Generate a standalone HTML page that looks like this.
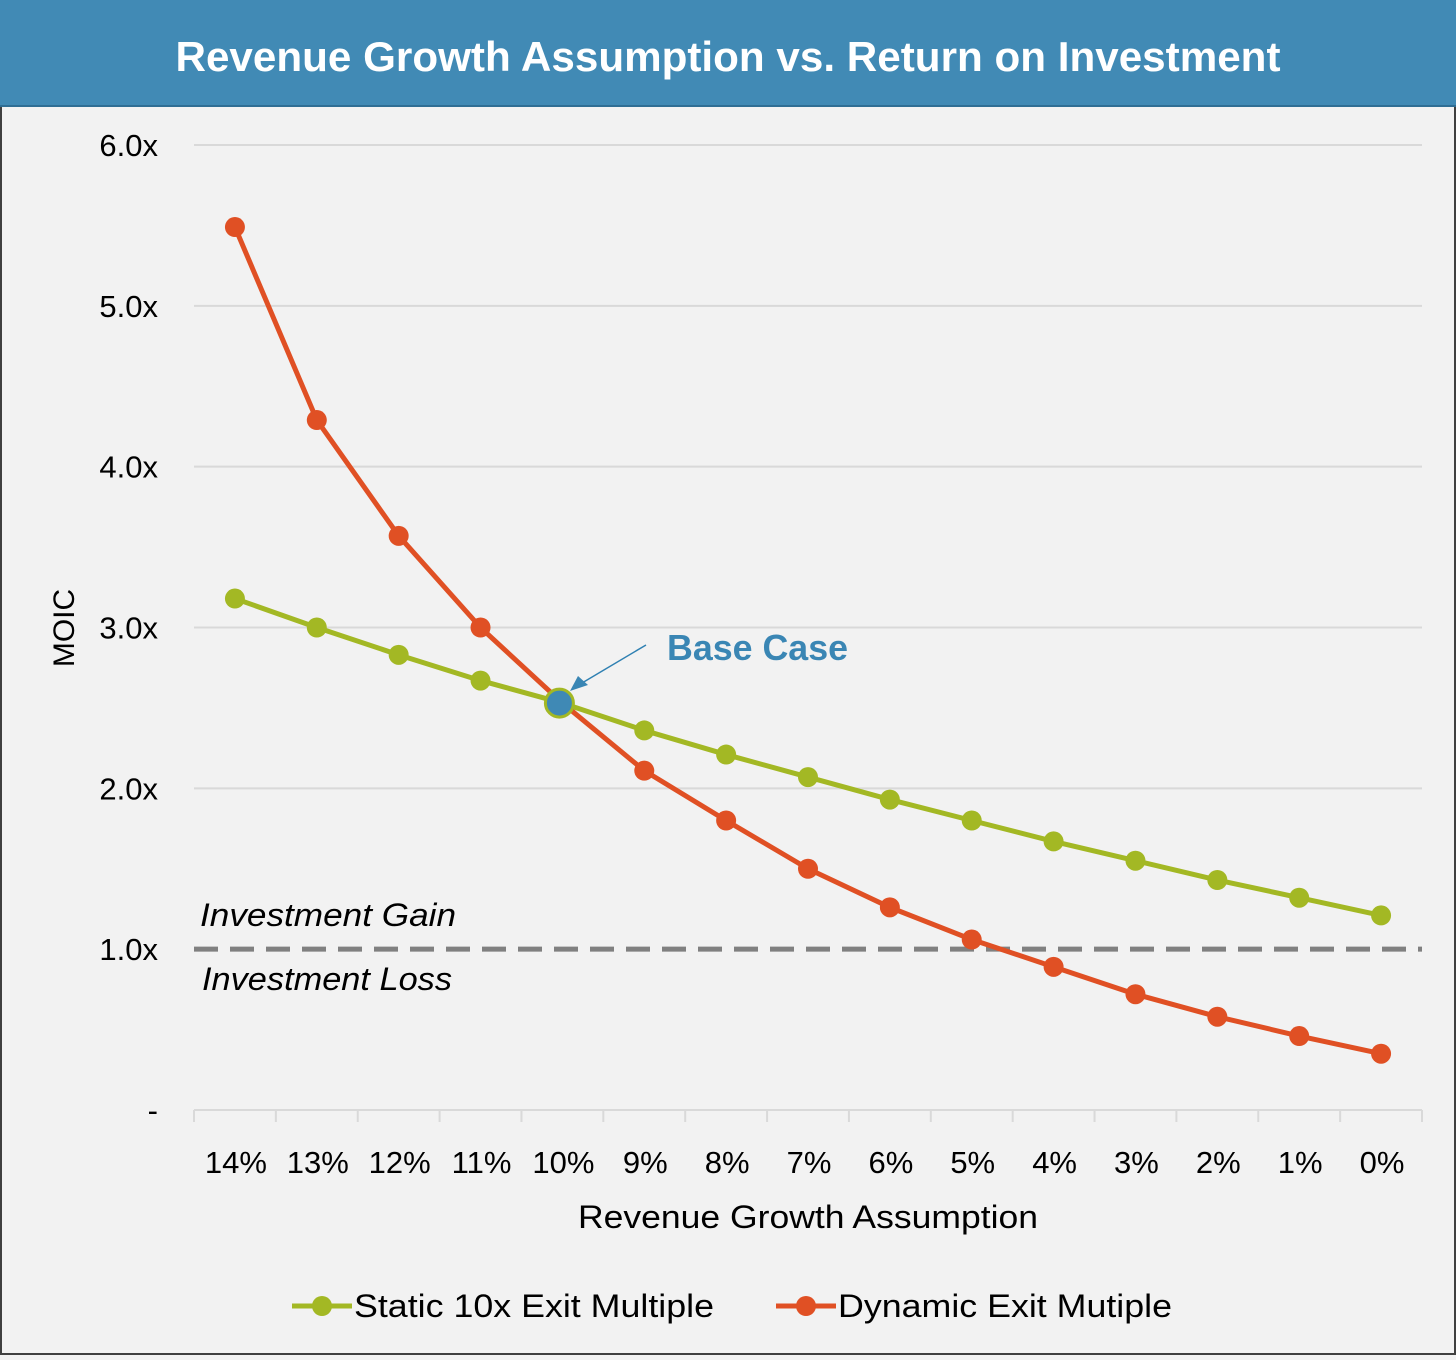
<!DOCTYPE html>
<html><head><meta charset="utf-8"><style>
body{margin:0;width:1456px;height:1355px;background:#f2f2f2;overflow:hidden;font-family:"Liberation Sans",sans-serif}
</style></head><body>
<svg width="1456" height="1355" viewBox="0 0 1456 1355">
<rect x="1" y="1" width="1454" height="1353" fill="#f2f2f2" stroke="#404040" stroke-width="2"/>
<rect x="0" y="0" width="1456" height="107" fill="#418ab5"/>
<line x1="0" y1="106" x2="1456" y2="106" fill="none" stroke="#2f6e94" stroke-width="2"/>
<text x="728" y="71" text-anchor="middle" font-size="42" font-weight="bold" fill="#fff" textLength="1105" lengthAdjust="spacingAndGlyphs">Revenue Growth Assumption vs. Return on Investment</text>
<g id="grid"></g><g id="axes"></g><g id="series"></g>
<text x="74" y="628" transform="rotate(-90 74 628)" text-anchor="middle" font-size="30" fill="#000">MOIC</text>
<text x="808" y="1228" text-anchor="middle" font-size="32" fill="#000" textLength="460" lengthAdjust="spacingAndGlyphs">Revenue Growth Assumption</text>
<text x="200" y="926" font-size="32" font-style="italic" fill="#000" textLength="256" lengthAdjust="spacingAndGlyphs">Investment Gain</text>
<text x="202" y="990" font-size="32" font-style="italic" fill="#000" textLength="250" lengthAdjust="spacingAndGlyphs">Investment Loss</text>
<text x="667" y="660" font-size="36" font-weight="bold" fill="#3a86b4" textLength="181" lengthAdjust="spacingAndGlyphs">Base Case</text>
<line x1="646" y1="645" x2="582" y2="683" stroke="#2f80b2" stroke-width="1.5"/>
<polygon points="570,691 578,676 588,685" fill="#3a86b4"/>
<g>
<line x1="292" y1="1306" x2="352" y2="1306" stroke="#a3b824" stroke-width="5"/><circle cx="322" cy="1306" r="10" fill="#a3b824"/>
<text x="354" y="1317" font-size="32" fill="#000" textLength="360" lengthAdjust="spacingAndGlyphs">Static 10x Exit Multiple</text>
<line x1="776" y1="1306" x2="836" y2="1306" stroke="#e05024" stroke-width="5"/><circle cx="806" cy="1306" r="10" fill="#e05024"/>
<text x="838" y="1317" font-size="32" fill="#000" textLength="334" lengthAdjust="spacingAndGlyphs">Dynamic Exit Mutiple</text>
</g>
</svg>
<script>
const categories=["14%","13%","12%","11%","10%","9%","8%","7%","6%","5%","4%","3%","2%","1%","0%"];
const staticValues=[3.18,3.00,2.83,2.67,2.53,2.36,2.21,2.07,1.93,1.80,1.67,1.55,1.43,1.32,1.21];
const dynamicValues=[5.49,4.29,3.57,3.00,2.53,2.11,1.80,1.50,1.26,1.06,0.89,0.72,0.58,0.46,0.35];
const yTicks=[0,1,2,3,4,5,6];
const yTickLabels=["-","1.0x","2.0x","3.0x","4.0x","5.0x","6.0x"];
const baseIndex=4;
const NS="http://www.w3.org/2000/svg";
const X0=194,X1=1422,Y0=1110,Y6=145;
const step=(X1-X0)/categories.length;
const xs=i=>X0+step*(i+0.5);
const ys=v=>Y0-(Y0-Y6)*v/6;
function mk(p,t,a){const e=document.createElementNS(NS,t);for(const k in a)e.setAttribute(k,a[k]);p.appendChild(e);return e;}
const grid=document.getElementById('grid'),axes=document.getElementById('axes'),ser=document.getElementById('series');
yTicks.forEach((v,i)=>{
 if(v>0&&v!==1){const l=mk(grid,'line',{x1:X0,x2:X1,y1:ys(v),y2:ys(v),stroke:'#d9d9d9','stroke-width':2});
 
 }
 const t=mk(axes,'text',{x:158,y:ys(v)+11,'text-anchor':'end','font-size':31,fill:'#000'});t.textContent=yTickLabels[i];
 
 
});
const ref=mk(grid,'line',{x1:X0,x2:X1,y1:ys(1),y2:ys(1),stroke:'#808080','stroke-width':5,'stroke-dasharray':'24,12'});


const ax=mk(axes,'line',{x1:X0,x2:X1,y1:Y0,y2:Y0,stroke:'#d9d9d9','stroke-width':2});


for(let i=0;i<=categories.length;i++){mk(axes,'line',{x1:X0+step*i,x2:X0+step*i,y1:Y0,y2:Y0+12,stroke:'#d9d9d9','stroke-width':2});}
categories.forEach((c,i)=>{const t=mk(axes,'text',{x:xs(i)+1,y:1173,'text-anchor':'middle','font-size':31,fill:'#000'});t.textContent=c;
 
 });
function series(vals,col,name){
 const p=mk(ser,'polyline',{points:vals.map((v,i)=>xs(i)+','+ys(v)).join(' '),fill:'none',stroke:col,'stroke-width':5,'stroke-linejoin':'round'});
 
 
 vals.forEach((v,i)=>{const c=mk(ser,'circle',{cx:xs(i),cy:ys(v),r:10,fill:col});
 
 });
}
series(staticValues,'#a3b824','static');
series(dynamicValues,'#e05024','dynamic');
const b=mk(ser,'circle',{cx:xs(baseIndex)-3,cy:ys(staticValues[baseIndex]),r:14,fill:'#3f89b5',stroke:'#a3b824','stroke-width':3});


</script>
</body></html>
